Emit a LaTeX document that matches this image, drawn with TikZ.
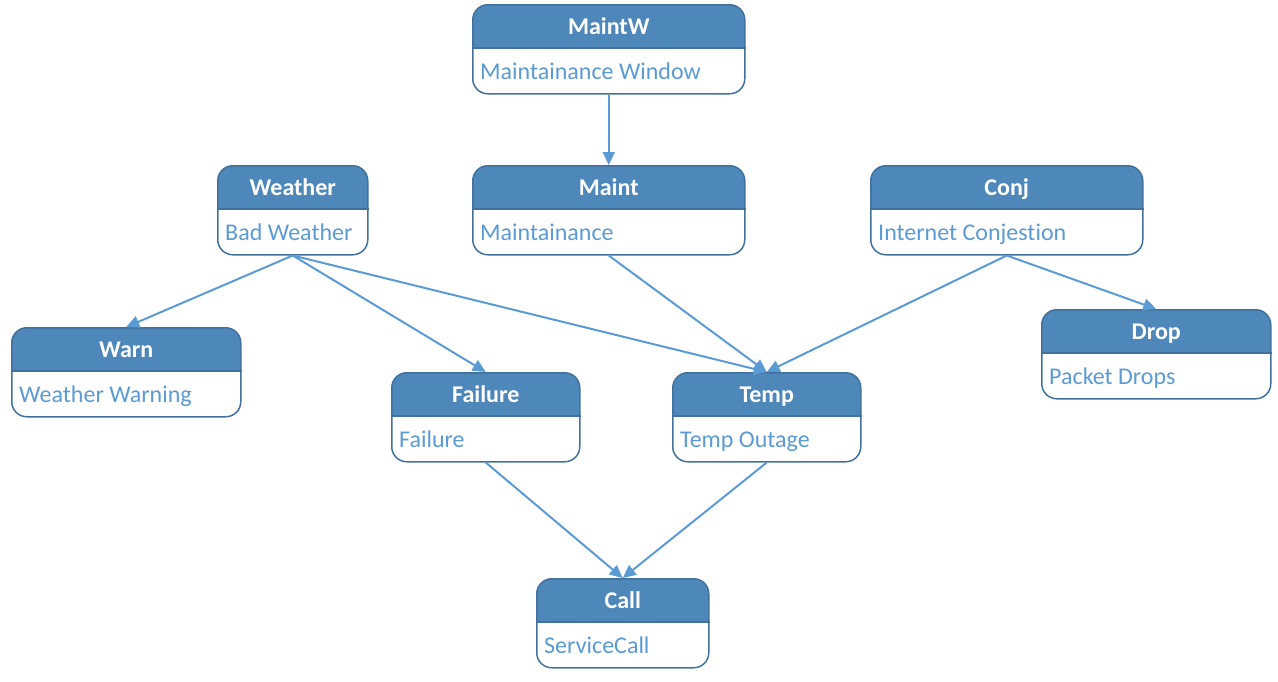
\documentclass[tikz,border=0pt]{standalone}
\usepackage{fontspec}
\setmainfont{Carlito}[Ligatures={NoCommon}]
\usetikzlibrary{arrows.meta}
\definecolor{hdr}{HTML}{4E87BA}
\definecolor{bord}{HTML}{41719C}
\definecolor{txt}{HTML}{5B9BD5}
\definecolor{linkc}{HTML}{5B9BD5}
\tikzset{
  box/.style={draw=bord, line width=1.5pt, rounded corners=15pt, fill=white, inner sep=0pt, minimum height=89pt},
  hdrtext/.style={text=white, font=\fontsize{24}{28}\selectfont\bfseries, inner sep=0pt, anchor=base},
  bodytext/.style={text=txt, font=\fontsize{24}{28}\selectfont, inner sep=0pt, anchor=base west},
  link/.style={draw=linkc, line width=2pt, -{Triangle[length=13pt,width=12pt]}},
}
% name, left, top, width, title, body
\newcommand\statebox[6]{%
  \node[box, minimum width=#4pt, anchor=north west,
    path picture={\fill[hdr, sharp corners] (path picture bounding box.north west) rectangle ([yshift=-44pt]path picture bounding box.north east);}]
    (#1) at (#2,#3) {};
  \draw[bord, line width=1.2pt, sharp corners] ([yshift=-44pt]#1.north west) -- ([yshift=-44pt]#1.north east);
  \node[hdrtext] (#1-t) at ([yshift=-30pt]#1.north) {#5};
  \node[bodytext] (#1-b) at ([xshift=8pt,yshift=-75pt]#1.north west) {#6};
}
\begin{document}
\begin{tikzpicture}[x=1pt,y=-1pt]
\useasboundingbox (0,0) rectangle (1278,681);
\statebox{MaintW}{472}{4}{272}{MaintW}{Maintainance Window}
\statebox{Maint}{472}{165}{272}{Maint}{Maintainance}
\statebox{Weather}{217}{165}{150}{Weather}{Bad Weather}
\statebox{Conj}{870}{165}{272}{Conj}{Internet Conjestion}
\statebox{Warn}{11}{327}{229}{Warn}{Weather Warning}
\statebox{Failure}{391}{372}{188}{Failure}{Failure}
\statebox{Temp}{672}{372}{188}{Temp}{Temp Outage}
\statebox{Drop}{1041}{309}{229}{Drop}{Packet Drops}
\statebox{Call}{536}{578}{172}{Call}{ServiceCall}

\draw[link] (MaintW.south) -- (Maint.north);
\draw[link] (Weather.south) -- (Warn.north);
\draw[link] (Weather.south) -- (Failure.north);
\draw[link] (Weather.south) -- (Temp.north);
\draw[link] (Maint.south) -- (Temp.north);
\draw[link] (Conj.south) -- (Temp.north);
\draw[link] (Conj.south) -- (Drop.north);
\draw[link] (Failure.south) -- (Call.north);
\draw[link] (Temp.south) -- (Call.north);
\end{tikzpicture}
\end{document}
